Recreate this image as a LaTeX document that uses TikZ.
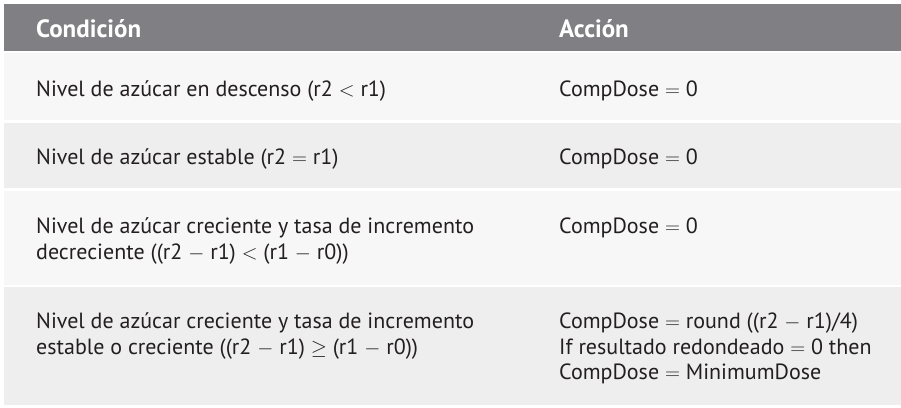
\documentclass[tikz,border=0pt]{standalone}
\usepackage{fontspec}
\setmainfont{PT Sans}
\definecolor{headgray}{HTML}{808084}
\definecolor{rowlight}{HTML}{F7F7F7}
\definecolor{rowdark}{HTML}{EEEEEE}
\definecolor{inkdark}{HTML}{231F20}

\begin{document}
\begin{tikzpicture}[x=1pt,y=-1pt,
    cell/.style={anchor=base west,inner sep=0pt,align=left,text=inkdark,
      font=\fontsize{22}{25.5}\selectfont},
    head/.style={cell,text=white,font=\fontsize{25}{28}\selectfont\bfseries}]
    \useasboundingbox (0,0) rectangle (901,407);

    % Row backgrounds
    \fill[headgray] (4,4) rectangle (901,51);
    \fill[rowlight] (4,53) rectangle (901,120);
    \fill[rowdark] (4,123) rectangle (901,188);
    \fill[rowlight] (4,191) rectangle (901,285);
    \fill[rowdark] (4,287) rectangle (901,405);

    % Header
    \node[head] at (36,37) (cond) {Condición};
    \node[head] at (559,37) (acc) {Acción};

    % Conditions (base = last line)
    \node[cell] at (36,96.5) (c1) {Nivel de azúcar en descenso (r2 $<$ r1)};
    \node[cell] at (36,164) (c2) {Nivel de azúcar estable (r2 $=$ r1)};
    \node[cell] at (36,259) (c3) {Nivel de azúcar creciente y tasa de incremento\\
      decreciente ((r2 $-$ r1) $<$ (r1 $-$ r0))};
    \node[cell] at (36,354) (c4) {Nivel de azúcar creciente y tasa de incremento\\
      estable o creciente ((r2 $-$ r1) $\geq$ (r1 $-$ r0))};

    % Actions
    \node[cell] at (559,96.5) (a1) {CompDose $=$ 0};
    \node[cell] at (559,164) (a2) {CompDose $=$ 0};
    \node[cell] at (559,233) (a3) {CompDose $=$ 0};
    \node[cell] at (559,379.5) (a4) {CompDose $=$ round ((r2 $-$ r1)/4)\\
      If resultado redondeado $=$ 0 then\\CompDose $=$ MinimumDose};
\end{tikzpicture}
\end{document}
